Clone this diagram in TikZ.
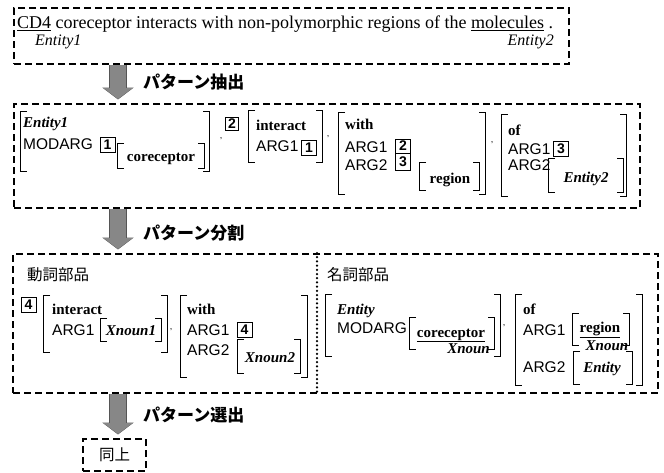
\documentclass[tikz,border=0pt]{standalone}
\usepackage{fontspec}
\setmainfont{Liberation Serif}
\setsansfont{Liberation Sans}
\newfontfamily\jp{Noto Sans CJK JP}
\usetikzlibrary{arrows.meta}
\definecolor{arrowfill}{HTML}{878787}
\definecolor{arrowedge}{HTML}{555555}

\begin{document}
\begin{tikzpicture}[x=1pt,y=-1pt,
  dbox/.style={draw,line width=2.4pt,dash pattern=on 7pt off 4pt,inner sep=0pt,anchor=north west},
  brk/.style 2 args={inner sep=0pt,anchor=north west,minimum width=#1pt,minimum height=#2pt,
    path picture={
      \draw[line width=1.2pt] ([xshift=7pt,yshift=-0.6pt]path picture bounding box.north west) -| ([xshift=0.6pt,yshift=0.6pt]path picture bounding box.south west) -- ++(6.4pt,0);
      \draw[line width=1.2pt] ([xshift=-7pt,yshift=-0.6pt]path picture bounding box.north east) -| ([xshift=-0.6pt,yshift=0.6pt]path picture bounding box.south east) -- ++(-6.4pt,0);}},
  sf/.style={font=\sffamily\fontsize{15.5}{18}\selectfont,anchor=base west,inner sep=0pt},
  hd/.style={font=\bfseries\fontsize{15}{18}\selectfont,anchor=base west,inner sep=0pt},
  ent/.style={font=\bfseries\itshape\fontsize{15}{18}\selectfont,anchor=base west,inner sep=0pt},
  numbox/.style={draw,line width=1pt,font=\sffamily\bfseries\fontsize{14}{16}\selectfont,inner sep=0pt,minimum width=15pt,minimum height=15pt},
  commamark/.style={font=\sffamily\fontsize{9}{10}\selectfont,inner sep=0pt},
  steplbl/.style={font=\jp\bfseries\fontsize{17}{20}\selectfont,anchor=west,inner sep=0pt},
  part/.style={font=\jp\fontsize{15.5}{18}\selectfont,anchor=base west,inner sep=0pt},
  bigarrow/.style={line width=16pt,arrowfill,-{Triangle[length=11pt,width=29pt]},shorten >=4pt,
    preaction={draw=arrowedge,line width=17.5pt,-{Triangle[length=12pt,width=31pt]},shorten >=3.5pt}}]
  \useasboundingbox (0,0) rectangle (664,472);

  % ===== sentence =====
  \node[dbox,minimum width=555pt,minimum height=56pt] (sent) at (13,7) {};
  \node[font=\fontsize{18}{21}\selectfont,anchor=base west,inner sep=0pt] (line) at (17,28.5) {\underline{CD4} coreceptor interacts with non-polymorphic regions of the \underline{molecules} .};
  \node[font=\itshape\fontsize{16}{18}\selectfont,anchor=base west,inner sep=0pt] (e1) at (35,45.5) {Entity1};
  \node[font=\itshape\fontsize{16}{18}\selectfont,anchor=base east,inner sep=0pt] (e2) at (554,45.5) {Entity2};

  \coordinate (ax) at (118,0);
  \coordinate (dv) at (317,0);

  % ===== extracted pattern =====
  \node[dbox,minimum width=626pt,minimum height=104pt] (ext) at (13,103) {};
  \draw[bigarrow] (sent.south -| ax) -- (ext.north -| ax);
  \node[steplbl] (s1) at (143,82) {パターン抽出};

  \node[brk={190}{61}] (a1) at (20,111) {};
  \node[ent] (a1h) at (23,127) {Entity1};
  \node[sf] (a1m) at (23,149) {MODARG};
  \node[numbox] (n1a) at (107.5,144.5) {1};
  \node[brk={88}{26}] (a1v) at (117,143) {};
  \node[hd,anchor=base] (a1t) at (161,161) {coreceptor};
  \node[commamark] (c1) at (221,139) {,};
  \node[numbox,minimum width=13pt,minimum height=13pt] (n2a) at (232,123.5) {2};
  \node[brk={75}{53}] (a2) at (248,110) {};
  \node[hd] (a2h) at (256,130) {interact};
  \node[sf] (a2a) at (256,151) {ARG1};
  \node[numbox] (n1b) at (309,148) {1};
  \node[commamark] (c2) at (328,137) {,};
  \node[brk={148}{83}] (a3) at (338,112) {};
  \node[hd] (a3h) at (345,129) {with};
  \node[sf] (a3a) at (345,152) {ARG1};
  \node[sf] (a3b) at (345,170) {ARG2};
  \node[numbox,minimum height=14pt] (n2b) at (403,146) {2};
  \node[numbox,minimum height=17pt] (n3a) at (403,161.5) {3};
  \node[brk={61}{29}] (a3v) at (419,162) {};
  \node[hd,anchor=base] (a3t) at (450,183) {region};
  \node[commamark] (c3) at (492,143) {,};
  \node[brk={126}{83}] (a4) at (501,114) {};
  \node[hd] (a4h) at (508,135) {of};
  \node[sf] (a4a) at (508,154) {ARG1};
  \node[sf] (a4b) at (508,170) {ARG2};
  \node[numbox] (n3b) at (561,148.5) {3};
  \node[brk={76}{35}] (a4v) at (548,158) {};
  \node[ent,anchor=base] (a4t) at (586,182) {Entity2};

  % ===== split pattern =====
  \node[dbox,minimum width=645pt,minimum height=139pt] (split) at (12,253) {};
  \draw[bigarrow] (ext.south -| ax) -- (split.north -| ax);
  \node[steplbl] (s2) at (143,233) {パターン分割};
  \draw[line width=2.5pt,dash pattern=on 0pt off 4.2pt,line cap=round] (split.north -| dv) -- (split.south -| dv);

  \node[part] (vp) at (27,280) {動詞部品};
  \node[numbox] (n4a) at (28.5,305) {4};
  \node[brk={125}{58}] (b1) at (43,295) {};
  \node[hd] (b1h) at (52,314) {interact};
  \node[sf] (b1a) at (52,335) {ARG1};
  \node[brk={62}{24}] (b1v) at (100,318) {};
  \node[ent,anchor=base] (b1t) at (131,335) {Xnoun1};
  \node[commamark] (c4) at (171,330) {,};
  \node[brk={128}{83}] (b2) at (180,295) {};
  \node[hd] (b2h) at (187,314) {with};
  \node[sf] (b2a) at (187,335) {ARG1};
  \node[numbox] (n4b) at (244.5,330) {4};
  \node[sf] (b2b) at (187,355) {ARG2};
  \node[brk={64}{35}] (b2v) at (237,339) {};
  \node[ent,anchor=base] (b2t) at (270,362) {Xnoun2};

  \node[part] (np) at (327,280) {名詞部品};
  \node[brk={176}{63}] (b3) at (325,294) {};
  \node[ent] (b3h) at (337,314) {Entity};
  \node[sf] (b3m) at (337,333) {MODARG};
  \node[brk={86}{33}] (b3v) at (409,317) {};
  \node[hd,anchor=base] (b3t) at (451,337) {\underline{coreceptor}};
  \node[ent,anchor=base east] (b3x) at (490,353) {Xnoun};
  \node[commamark] (c5) at (504,326) {,};
  \node[brk={128}{92}] (b4) at (515,294) {};
  \node[hd] (b4h) at (523,314) {of};
  \node[sf] (b4a) at (523,335) {ARG1};
  \node[brk={58}{33}] (b4v) at (572,313) {};
  \node[hd,anchor=base] (b4t) at (600,332) {\underline{region}};
  \node[ent,anchor=base] (b4x) at (607,350) {Xnoun};
  \node[sf] (b4b) at (523,372) {ARG2};
  \node[brk={60}{34}] (b4w) at (573,351) {};
  \node[ent,anchor=base] (b4e) at (602,372) {Entity};

  % ===== selected =====
  \node[dbox,minimum width=63pt,minimum height=32pt,font=\jp\fontsize{15.5}{18}\selectfont] (sel) at (82,438) {同上};
  \draw[bigarrow] (split.south -| ax) -- (sel.north -| ax);
  \node[steplbl] (s3) at (143,415) {パターン選出};
\end{tikzpicture}
\end{document}
